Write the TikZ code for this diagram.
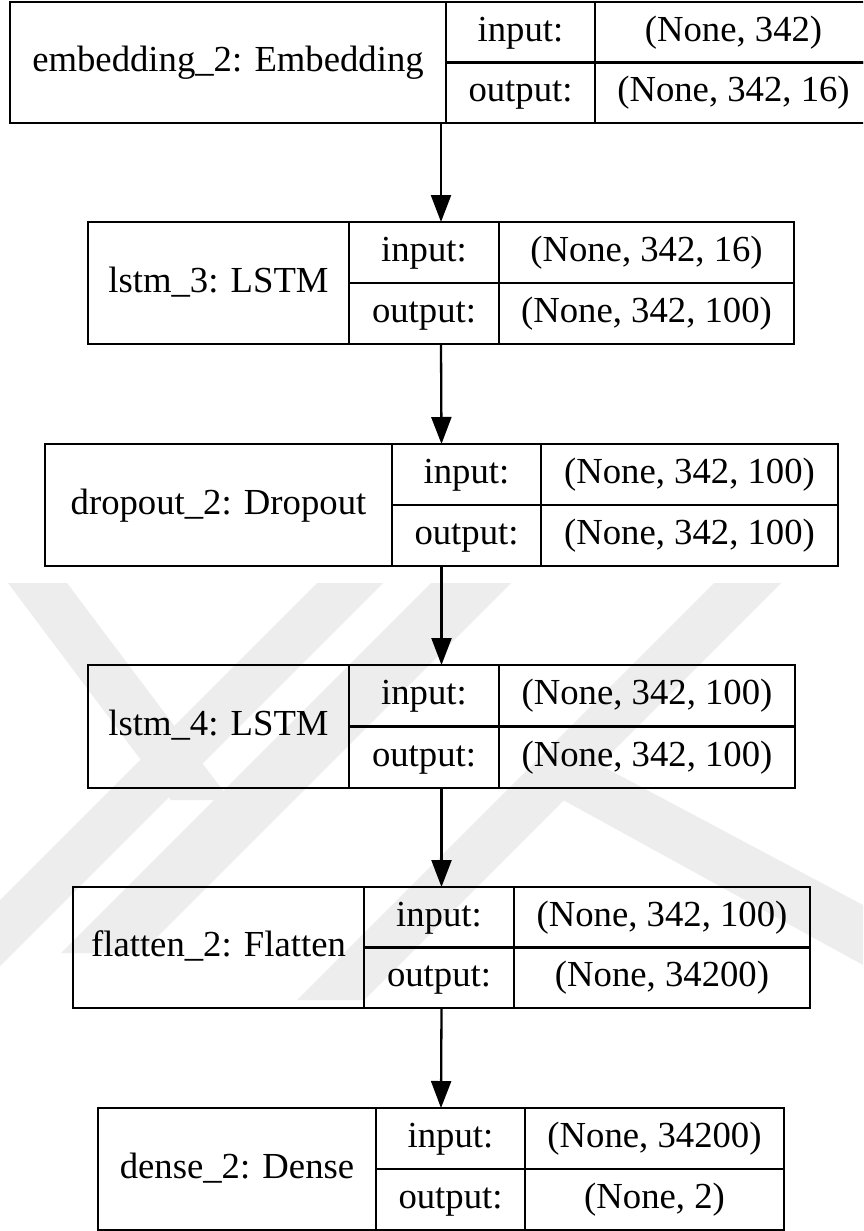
\documentclass[tikz,border=0pt]{standalone}
\usepackage{fontspec}
\setmainfont{Liberation Serif}
\usetikzlibrary{arrows.meta}

\tikzset{
  frame/.style={inner sep=0pt, outer sep=0pt},
  cell/.style={draw=black, line width=2.3pt, inner sep=0pt, outer sep=0pt,
    font=\fontsize{36.7}{44}\selectfont, text height=25.7pt, text depth=7.3pt},
  flow/.style={draw=black, line width=2.3pt,
    -{Triangle[length=27pt, width=20pt]}},
  mark band/.style={fill=black!7, draw=none},
}

\begin{document}
\begin{tikzpicture}[x=1pt, y=-1pt]
\useasboundingbox (0,0) rectangle (863,1231);
\clip (0,0) rectangle (863,1231);
\fill[white] (0,0) rectangle (863,1231);

% faint background emblem (diagonal bands)
\fill[mark band] (8,583) -- (67,583) -- (230,800) -- (171,800) -- cycle;
\fill[mark band] (317,583) -- (383,583) -- (0,966) -- (0,900) -- cycle;
\fill[mark band] (431,583) -- (511,583) -- (141,953) -- (61,953) -- cycle;
\fill[mark band] (714,583) -- (781,583) -- (364,1000) -- (297,1000) -- cycle;
\fill[mark band] (545,790) -- (600,765) -- (863,905) -- (863,965) -- cycle;

% one layer per row: name / left / label split / value split / right / top / bottom / texts
\foreach \n/\xl/\xa/\xb/\xr/\yt/\yb/\ttl/\tin/\tout in {
  emb/10/446/595/872/2/123/{embedding\_2: Embedding}/{(None, 342)}/{(None, 342, 16)},
  lstmA/88/349/499/794/222/344/{lstm\_3: LSTM}/{(None, 342, 16)}/{(None, 342, 100)},
  drop/45/392/541/838/444/566/{dropout\_2: Dropout}/{(None, 342, 100)}/{(None, 342, 100)},
  lstmB/88/349/499/795/665/788/{lstm\_4: LSTM}/{(None, 342, 100)}/{(None, 342, 100)},
  flat/73/364/514/810/887/1008/{flatten\_2: Flatten}/{(None, 342, 100)}/{(None, 34200)},
  dense/98/376/525/784/1108/1230/{dense\_2: Dense}/{(None, 34200)}/{(None, 2)}%
}{
  \pgfmathsetmacro\ym{(\yt+\yb)/2}
  \node[frame, minimum width={\xr-\xl}, minimum height={\yb-\yt}]
    (\n) at ({(\xl+\xr)/2},\ym) {};
  \node[cell, minimum width={\xa-\xl}, minimum height={\yb-\yt}]
    (\n-name) at ({(\xl+\xa)/2},\ym) {\ttl};
  \node[cell, minimum width={\xb-\xa}, minimum height={\ym-\yt}]
    (\n-inl) at ({(\xa+\xb)/2},{(\yt+\ym)/2}) {input:};
  \node[cell, minimum width={\xb-\xa}, minimum height={\yb-\ym}]
    (\n-outl) at ({(\xa+\xb)/2},{(\ym+\yb)/2}) {output:};
  \node[cell, minimum width={\xr-\xb}, minimum height={\ym-\yt}]
    (\n-inv) at ({(\xb+\xr)/2},{(\yt+\ym)/2}) {\tin};
  \node[cell, minimum width={\xr-\xb}, minimum height={\yb-\ym}]
    (\n-outv) at ({(\xb+\xr)/2},{(\ym+\yb)/2}) {\tout};
}

% connectors between consecutive layers
\foreach \a/\b in {emb/lstmA, lstmA/drop, drop/lstmB, lstmB/flat, flat/dense}
  \draw[flow] (\a.south) -- (\b.north);
\end{tikzpicture}
\end{document}
